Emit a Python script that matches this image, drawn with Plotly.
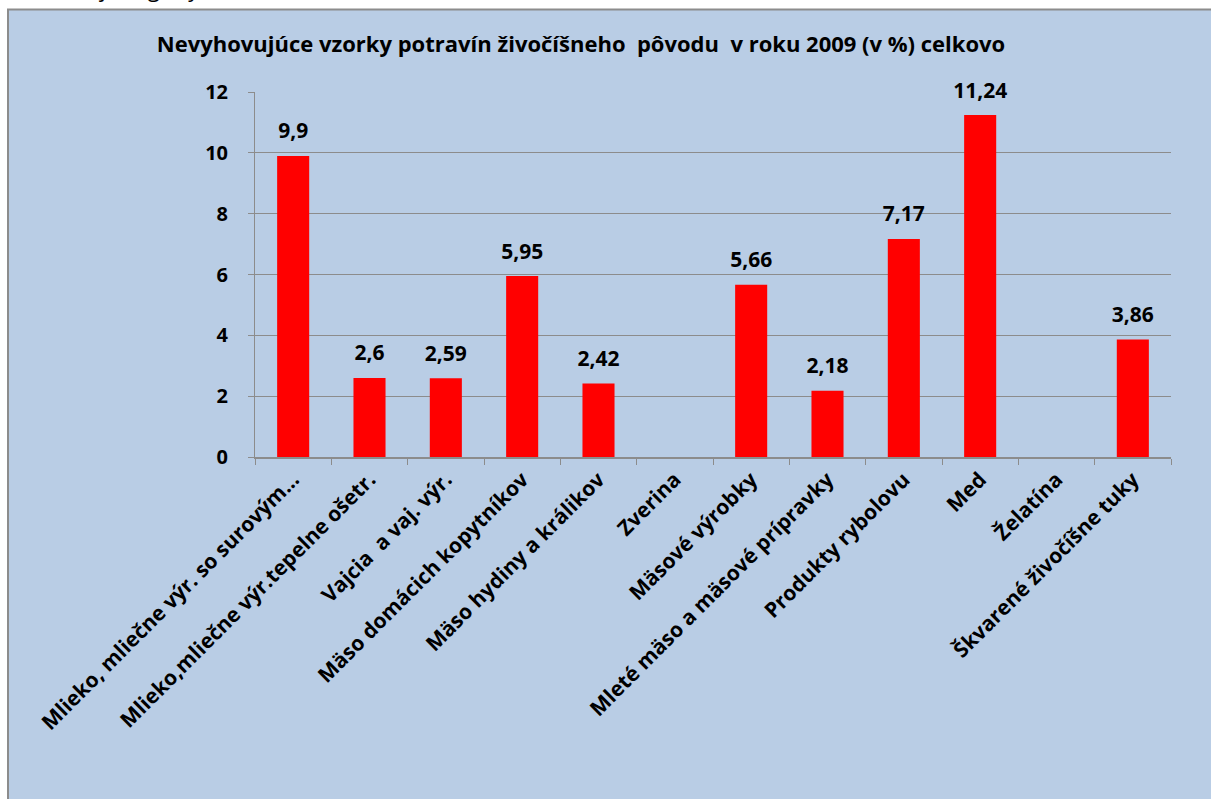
import plotly.graph_objects as go

# kategórie a hodnoty (v %)
categories = [
    "Mlieko, mliečne výr. so surovým...",
    "Mlieko,mliečne výr.tepelne ošetr.",
    "Vajcia  a vaj. výr.",
    "Mäso domácich kopytníkov",
    "Mäso hydiny a králikov",
    "Zverina",
    "Mäsové výrobky",
    "Mleté mäso a mäsové prípravky",
    "Produkty rybolovu",
    "Med",
    "Želatína",
    "Škvarené živočíšne tuky",
]
values = [9.9, 2.6, 2.59, 5.95, 2.42, None, 5.66, 2.18, 7.17, 11.24, None, 3.86]
y_ticks = [0, 2, 4, 6, 8, 10, 12]

title = "Nevyhovujúce vzorky potravín živočíšneho  pôvodu  v roku 2009 (v %) celkovo"

W, H = 1211, 799
L, R, T, B = 255, 40, 92, 342
FONT = "Open Sans"


def px_x(p):
    return (p - L) / (W - L - R)


def px_y(p):
    return 1 - (p - T) / (H - T - B)


labels = [("" if v is None else "<b>" + str(v).replace(".", ",") + "</b>") for v in values]
ticktext = ["<b>" + c + "</b>" for c in categories]

fig = go.Figure()
fig.add_trace(go.Bar(
    x=categories,
    y=[0 if v is None else v for v in values],
    marker=dict(color="#FF0000", line=dict(width=0)),
    width=0.42,
    hoverinfo="skip",
))
# popisky hodnôt nad stĺpcami (neviditeľný marker kvôli odstupu)
fig.add_trace(go.Scatter(
    x=categories,
    y=[0 if v is None else v for v in values],
    mode="markers+text",
    text=labels,
    textposition="top center",
    textfont=dict(family=FONT, size=21, color="black"),
    marker=dict(size=18, opacity=0),
    cliponaxis=False,
    hoverinfo="skip",
))

# modrý panel grafu
fig.add_shape(type="rect", xref="paper", yref="paper",
              x0=px_x(8), x1=px_x(W + 20), y0=px_y(H + 20), y1=px_y(9.5),
              fillcolor="#B9CDE5", line=dict(color="#8C8C8C", width=2), layer="below")

# odrezaný text nad grafom (v originále je vidieť len spodok písmen)
fig.add_annotation(text="Nasledujúce grafy", xref="paper", yref="paper",
                   x=px_x(14), y=px_y(5), xanchor="left", yanchor="bottom",
                   showarrow=False, font=dict(family=FONT, size=22, color="black"))

fig.update_layout(
    width=W, height=H,
    margin=dict(l=L, r=R, t=T, b=B),
    paper_bgcolor="white",
    plot_bgcolor="white",
    showlegend=False,
    title=dict(text="<b>" + title + "</b>", x=581 / W, xanchor="center",
               y=1 - 44 / H, yanchor="middle",
               font=dict(family=FONT, size=22, color="black")),
    font=dict(family=FONT, color="black"),
    bargap=0.58,
)
fig.update_xaxes(
    range=[-0.5, len(categories) - 0.5],
    tickangle=-45,
    tickvals=categories, ticktext=ticktext,
    tickfont=dict(family=FONT, size=21, color="black"),
    showline=True, linecolor="#8C8C8C", linewidth=2,
    ticks="outside", tickson="boundaries", ticklen=6, tickcolor="#8C8C8C",
    showgrid=False,
)
fig.update_yaxes(
    range=[0, 12], tickvals=y_ticks, ticktext=["<b>%d</b>" % t for t in y_ticks],
    tickfont=dict(family=FONT, size=20, color="black"),
    showline=True, linecolor="#8C8C8C", linewidth=1,
    ticks="outside", ticklen=6, tickcolor="#8C8C8C", ticklabelstandoff=16,
    showgrid=True, gridcolor="#8C8C8C", gridwidth=1,
    zeroline=False,
)
fig.write_html("out.html", config={"displayModeBar": False},
               post_script="document.body.style.margin='0px';")
